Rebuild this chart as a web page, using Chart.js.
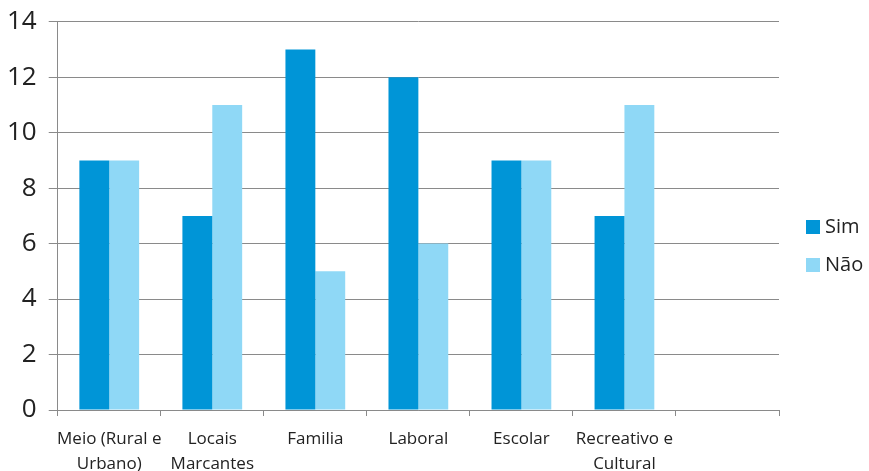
<!DOCTYPE html>
<html>
<head>
<meta charset="utf-8">
<script src="https://cdn.jsdelivr.net/npm/chart.js@4/dist/chart.umd.min.js"></script>
<style>
  html, body { margin: 0; padding: 0; background: #fff; overflow: hidden; }
  #wrap { width: 869px; height: 471px; overflow: hidden; }
  #box { width: 869px; height: 488px; position: relative; }
</style>
</head>
<body>
<div id="wrap"><div id="box"><canvas id="chart"></canvas></div></div>
<script>
var categories = [['Meio (Rural e', 'Urbano)'], ['Locais', 'Marcantes'], 'Familia', 'Laboral', 'Escolar', ['Recreativo e', 'Cultural'], ''];
var sim = [9, 7, 13, 12, 9, 7, null];
var nao = [9, 11, 5, 6, 9, 11, null];
var yTicks = [0, 2, 4, 6, 8, 10, 12, 14];

var gridColor = '#8a8a8a';

// legend drawn at the right, beside the plot
var sideLegend = {
    id: 'sideLegend',
    afterDraw: function(chart) {
        var c = chart.ctx;
        var x = chart.chartArea.right + 27;
        var y0 = 227, step = 38;
        c.save();
        c.font = '20px "Open Sans"';
        c.textBaseline = 'middle';
        chart.data.datasets.forEach(function(ds, i) {
            var y = y0 + i * step;
            c.fillStyle = ds.backgroundColor;
            c.fillRect(x, y - 7, 14, 14);
            c.fillStyle = '#222';
            c.fillText(ds.label, x + 19, y);
        });
        c.restore();
    }
};

var ctx = document.getElementById('chart');
var chart = new Chart(ctx, {
    type: 'bar',
    data: {
        labels: categories,
        datasets: [
            {
                label: 'Sim',
                data: sim,
                backgroundColor: '#0095d7',
                borderWidth: 0,
                categoryPercentage: 0.58,
                barPercentage: 1.0
            },
            {
                label: 'Não',
                data: nao,
                backgroundColor: '#8fd8f6',
                borderWidth: 0,
                categoryPercentage: 0.58,
                barPercentage: 1.0
            }
        ]
    },
    options: {
        responsive: true,
        maintainAspectRatio: false,
        animation: false,
        layout: { padding: { top: 0, right: 90, left: -5, bottom: 0 } },
        plugins: {
            tooltip: { enabled: false },
            legend: { display: false }
        },
        scales: {
            x: {
                offset: true,
                grid: {
                    display: true,
                    offset: true,
                    drawOnChartArea: false,
                    color: gridColor,
                    tickLength: 6
                },
                border: { color: gridColor },
                ticks: {
                    color: '#222',
                    padding: 11,
                    maxRotation: 0,
                    autoSkip: false,
                    font: { family: 'Open Sans', size: 17, lineHeight: 1.47 }
                }
            },
            y: {
                min: 0,
                max: 14,
                afterBuildTicks: function(axis) {
                    axis.ticks = yTicks.map(function(v) { return { value: v }; });
                },
                grid: { color: gridColor, tickLength: 9 },
                border: { color: gridColor },
                ticks: {
                    color: '#222',
                    padding: 12,
                    font: { family: 'Open Sans', size: 26, lineHeight: 0.75 }
                }
            }
        }
    },
    plugins: [sideLegend]
});
</script>
</body>
</html>
